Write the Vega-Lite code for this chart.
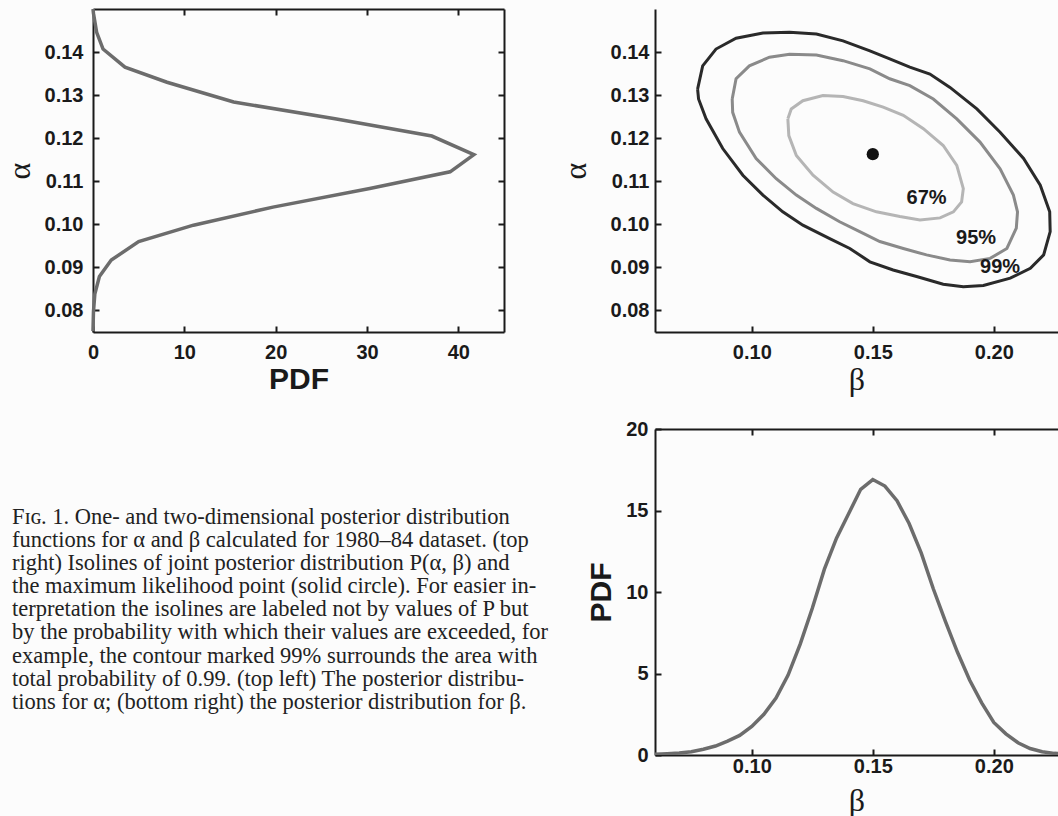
{
  "$schema": "https://vega.github.io/schema/vega-lite/v6.json",
  "background": "#fcfcfc",
  "padding": {"left": 3, "top": 2, "right": 0, "bottom": 0},
  "bounds": "flush",
  "columns": 2,
  "spacing": {"row": 97, "column": 151},
  "datasets": {
    "alphaPdf": [
      {"alpha": 0.0752, "pdf": 0.0}, {"alpha": 0.0797, "pdf": 0.05}, {"alpha": 0.0838, "pdf": 0.2},
      {"alpha": 0.0879, "pdf": 0.7}, {"alpha": 0.0917, "pdf": 2.0}, {"alpha": 0.0960, "pdf": 5.0},
      {"alpha": 0.0998, "pdf": 11.0}, {"alpha": 0.1040, "pdf": 19.7}, {"alpha": 0.1083, "pdf": 30.3},
      {"alpha": 0.1122, "pdf": 39.1}, {"alpha": 0.1162, "pdf": 41.7}, {"alpha": 0.1205, "pdf": 37.1},
      {"alpha": 0.1245, "pdf": 26.5}, {"alpha": 0.1284, "pdf": 15.4}, {"alpha": 0.1330, "pdf": 8.1},
      {"alpha": 0.1365, "pdf": 3.5}, {"alpha": 0.1407, "pdf": 1.1}, {"alpha": 0.1446, "pdf": 0.4},
      {"alpha": 0.1490, "pdf": 0.05}, {"alpha": 0.1500, "pdf": 0.0}
    ],
    "betaPdf": [
      {"beta": 0.060, "pdf": 0.05}, {"beta": 0.065, "pdf": 0.08}, {"beta": 0.070, "pdf": 0.12},
      {"beta": 0.075, "pdf": 0.2}, {"beta": 0.080, "pdf": 0.35}, {"beta": 0.085, "pdf": 0.55},
      {"beta": 0.090, "pdf": 0.85}, {"beta": 0.095, "pdf": 1.2}, {"beta": 0.100, "pdf": 1.75},
      {"beta": 0.105, "pdf": 2.5}, {"beta": 0.110, "pdf": 3.5}, {"beta": 0.115, "pdf": 4.9},
      {"beta": 0.120, "pdf": 6.8}, {"beta": 0.125, "pdf": 9.0}, {"beta": 0.130, "pdf": 11.4},
      {"beta": 0.135, "pdf": 13.3}, {"beta": 0.140, "pdf": 14.8}, {"beta": 0.145, "pdf": 16.3},
      {"beta": 0.150, "pdf": 16.9}, {"beta": 0.155, "pdf": 16.5}, {"beta": 0.160, "pdf": 15.6},
      {"beta": 0.165, "pdf": 14.2}, {"beta": 0.170, "pdf": 12.4}, {"beta": 0.175, "pdf": 10.2},
      {"beta": 0.180, "pdf": 8.2}, {"beta": 0.185, "pdf": 6.3}, {"beta": 0.190, "pdf": 4.6},
      {"beta": 0.195, "pdf": 3.2}, {"beta": 0.200, "pdf": 2.0}, {"beta": 0.205, "pdf": 1.3},
      {"beta": 0.210, "pdf": 0.75}, {"beta": 0.215, "pdf": 0.4}, {"beta": 0.220, "pdf": 0.2},
      {"beta": 0.225, "pdf": 0.1}, {"beta": 0.230, "pdf": 0.05}
    ],
    "contours": [
      {"level": "99%", "i": 0, "beta": 0.0776, "alpha": 0.1314}, {"level": "99%", "i": 1, "beta": 0.0797, "alpha": 0.1368},
      {"level": "99%", "i": 2, "beta": 0.0852, "alpha": 0.1407}, {"level": "99%", "i": 3, "beta": 0.0935, "alpha": 0.1432},
      {"level": "99%", "i": 4, "beta": 0.1046, "alpha": 0.1444}, {"level": "99%", "i": 5, "beta": 0.1156, "alpha": 0.1446},
      {"level": "99%", "i": 6, "beta": 0.1267, "alpha": 0.1442}, {"level": "99%", "i": 7, "beta": 0.1377, "alpha": 0.1426},
      {"level": "99%", "i": 8, "beta": 0.1488, "alpha": 0.1403}, {"level": "99%", "i": 9, "beta": 0.1570, "alpha": 0.1384},
      {"level": "99%", "i": 10, "beta": 0.1653, "alpha": 0.1365}, {"level": "99%", "i": 11, "beta": 0.1736, "alpha": 0.1349},
      {"level": "99%", "i": 12, "beta": 0.1819, "alpha": 0.1318}, {"level": "99%", "i": 13, "beta": 0.1930, "alpha": 0.1268},
      {"level": "99%", "i": 14, "beta": 0.2026, "alpha": 0.1214}, {"level": "99%", "i": 15, "beta": 0.2123, "alpha": 0.1153},
      {"level": "99%", "i": 16, "beta": 0.2192, "alpha": 0.1091}, {"level": "99%", "i": 17, "beta": 0.2231, "alpha": 0.1029},
      {"level": "99%", "i": 18, "beta": 0.2233, "alpha": 0.0983}, {"level": "99%", "i": 19, "beta": 0.2206, "alpha": 0.0929},
      {"level": "99%", "i": 20, "beta": 0.2151, "alpha": 0.0898}, {"level": "99%", "i": 21, "beta": 0.2068, "alpha": 0.0875},
      {"level": "99%", "i": 22, "beta": 0.1957, "alpha": 0.0858}, {"level": "99%", "i": 23, "beta": 0.1874, "alpha": 0.0855},
      {"level": "99%", "i": 24, "beta": 0.1791, "alpha": 0.0861}, {"level": "99%", "i": 25, "beta": 0.1681, "alpha": 0.0879},
      {"level": "99%", "i": 26, "beta": 0.1584, "alpha": 0.0894}, {"level": "99%", "i": 27, "beta": 0.1488, "alpha": 0.0913},
      {"level": "99%", "i": 28, "beta": 0.1405, "alpha": 0.0944}, {"level": "99%", "i": 29, "beta": 0.1322, "alpha": 0.0967},
      {"level": "99%", "i": 30, "beta": 0.1211, "alpha": 0.0998}, {"level": "99%", "i": 31, "beta": 0.1128, "alpha": 0.1029},
      {"level": "99%", "i": 32, "beta": 0.1046, "alpha": 0.1068}, {"level": "99%", "i": 33, "beta": 0.0963, "alpha": 0.1114},
      {"level": "99%", "i": 34, "beta": 0.0880, "alpha": 0.1176}, {"level": "99%", "i": 35, "beta": 0.0811, "alpha": 0.1245},
      {"level": "99%", "i": 36, "beta": 0.0780, "alpha": 0.1291}, {"level": "99%", "i": 37, "beta": 0.0776, "alpha": 0.1314},
      {"level": "95%", "i": 0, "beta": 0.0919, "alpha": 0.1291}, {"level": "95%", "i": 1, "beta": 0.0935, "alpha": 0.1338},
      {"level": "95%", "i": 2, "beta": 0.0990, "alpha": 0.1368}, {"level": "95%", "i": 3, "beta": 0.1073, "alpha": 0.1388},
      {"level": "95%", "i": 4, "beta": 0.1156, "alpha": 0.1395}, {"level": "95%", "i": 5, "beta": 0.1267, "alpha": 0.1393},
      {"level": "95%", "i": 6, "beta": 0.1377, "alpha": 0.1380}, {"level": "95%", "i": 7, "beta": 0.1488, "alpha": 0.1361},
      {"level": "95%", "i": 8, "beta": 0.1570, "alpha": 0.1338}, {"level": "95%", "i": 9, "beta": 0.1653, "alpha": 0.1322},
      {"level": "95%", "i": 10, "beta": 0.1750, "alpha": 0.1291}, {"level": "95%", "i": 11, "beta": 0.1847, "alpha": 0.1245},
      {"level": "95%", "i": 12, "beta": 0.1943, "alpha": 0.1191}, {"level": "95%", "i": 13, "beta": 0.2026, "alpha": 0.1129},
      {"level": "95%", "i": 14, "beta": 0.2081, "alpha": 0.1068}, {"level": "95%", "i": 15, "beta": 0.2098, "alpha": 0.1029},
      {"level": "95%", "i": 16, "beta": 0.2093, "alpha": 0.0991}, {"level": "95%", "i": 17, "beta": 0.2054, "alpha": 0.0944},
      {"level": "95%", "i": 18, "beta": 0.1985, "alpha": 0.0921}, {"level": "95%", "i": 19, "beta": 0.1902, "alpha": 0.0913},
      {"level": "95%", "i": 20, "beta": 0.1819, "alpha": 0.0917}, {"level": "95%", "i": 21, "beta": 0.1722, "alpha": 0.0929},
      {"level": "95%", "i": 22, "beta": 0.1626, "alpha": 0.0944}, {"level": "95%", "i": 23, "beta": 0.1529, "alpha": 0.0960},
      {"level": "95%", "i": 24, "beta": 0.1446, "alpha": 0.0983}, {"level": "95%", "i": 25, "beta": 0.1363, "alpha": 0.1006},
      {"level": "95%", "i": 26, "beta": 0.1267, "alpha": 0.1037}, {"level": "95%", "i": 27, "beta": 0.1184, "alpha": 0.1068},
      {"level": "95%", "i": 28, "beta": 0.1101, "alpha": 0.1106}, {"level": "95%", "i": 29, "beta": 0.1018, "alpha": 0.1153},
      {"level": "95%", "i": 30, "beta": 0.0949, "alpha": 0.1214}, {"level": "95%", "i": 31, "beta": 0.0921, "alpha": 0.1260},
      {"level": "95%", "i": 32, "beta": 0.0919, "alpha": 0.1291},
      {"level": "67%", "i": 0, "beta": 0.1149, "alpha": 0.1245}, {"level": "67%", "i": 1, "beta": 0.1163, "alpha": 0.1268},
      {"level": "67%", "i": 2, "beta": 0.1211, "alpha": 0.1287}, {"level": "67%", "i": 3, "beta": 0.1294, "alpha": 0.1299},
      {"level": "67%", "i": 4, "beta": 0.1377, "alpha": 0.1297}, {"level": "67%", "i": 5, "beta": 0.1460, "alpha": 0.1287},
      {"level": "67%", "i": 6, "beta": 0.1543, "alpha": 0.1272}, {"level": "67%", "i": 7, "beta": 0.1626, "alpha": 0.1253},
      {"level": "67%", "i": 8, "beta": 0.1709, "alpha": 0.1222}, {"level": "67%", "i": 9, "beta": 0.1791, "alpha": 0.1183},
      {"level": "67%", "i": 10, "beta": 0.1847, "alpha": 0.1137}, {"level": "67%", "i": 11, "beta": 0.1874, "alpha": 0.1083},
      {"level": "67%", "i": 12, "beta": 0.1867, "alpha": 0.1052}, {"level": "67%", "i": 13, "beta": 0.1833, "alpha": 0.1029},
      {"level": "67%", "i": 14, "beta": 0.1778, "alpha": 0.1015}, {"level": "67%", "i": 15, "beta": 0.1695, "alpha": 0.1010},
      {"level": "67%", "i": 16, "beta": 0.1612, "alpha": 0.1018}, {"level": "67%", "i": 17, "beta": 0.1515, "alpha": 0.1029},
      {"level": "67%", "i": 18, "beta": 0.1418, "alpha": 0.1048}, {"level": "67%", "i": 19, "beta": 0.1336, "alpha": 0.1075},
      {"level": "67%", "i": 20, "beta": 0.1253, "alpha": 0.1114}, {"level": "67%", "i": 21, "beta": 0.1184, "alpha": 0.1160},
      {"level": "67%", "i": 22, "beta": 0.1153, "alpha": 0.1206}, {"level": "67%", "i": 23, "beta": 0.1149, "alpha": 0.1245}
    ],
    "mle": [{"beta": 0.150, "alpha": 0.1163}],
    "contourLabels": [
      {"beta": 0.1722, "alpha": 0.1060, "label": "67%"},
      {"beta": 0.1927, "alpha": 0.0969, "label": "95%"},
      {"beta": 0.2026, "alpha": 0.0900, "label": "99%"}
    ],
    "caption": [
      {"line": 0, "text": "\u00a0\u00a0\u00a0\u00a0F\u026a\u0262. 1. One- and two-dimensional posterior distribution"},
      {"line": 1, "text": "functions for α and β calculated for 1980–84 dataset. (top"},
      {"line": 2, "text": "right) Isolines of joint posterior distribution P(α, β) and"},
      {"line": 3, "text": "the maximum likelihood point (solid circle). For easier in-"},
      {"line": 4, "text": "terpretation the isolines are labeled not by values of P but"},
      {"line": 5, "text": "by the probability with which their values are exceeded, for"},
      {"line": 6, "text": "example, the contour marked 99% surrounds the area with"},
      {"line": 7, "text": "total probability of 0.99. (top left) The posterior distribu-"},
      {"line": 8, "text": "tions for α; (bottom right) the posterior distribution for β."}
    ]
  },
  "concat": [
    {
      "width": 411,
      "height": 323,
      "data": {"name": "alphaPdf"},
      "layer": [
        {
          "mark": {"type": "line", "color": "#6c6c6c", "strokeWidth": 3.5},
          "encoding": {
            "x": {"field": "pdf", "type": "quantitative", "scale": {"domain": [0, 45], "nice": false, "zero": false},
                  "axis": {"values": [0, 10, 20, 30, 40], "title": "PDF", "titleFont": "Liberation Sans", "titleFontWeight": "bold", "titleFontSize": 30, "titlePadding": 2, "labelPadding": 16}},
            "y": {"field": "alpha", "type": "quantitative", "scale": {"domain": [0.075, 0.15], "nice": false, "zero": false},
                  "axis": {"values": [0.08, 0.09, 0.10, 0.11, 0.12, 0.13, 0.14], "format": ".2f", "title": "α", "titlePadding": 8, "labelPadding": 16}},
            "order": {"field": "alpha", "type": "quantitative"}
          }
        },
        {
          "mark": {"type": "line", "strokeOpacity": 0},
          "encoding": {
            "x": {"field": "pdf", "type": "quantitative", "axis": {"orient": "top", "values": [0, 10, 20, 30, 40], "labels": false, "title": null}},
            "y": {"field": "alpha", "type": "quantitative", "axis": {"orient": "right", "values": [0.08, 0.09, 0.10, 0.11, 0.12, 0.13, 0.14], "labels": false, "title": null}},
            "order": {"field": "alpha", "type": "quantitative"}
          }
        }
      ],
      "resolve": {"axis": {"x": "independent", "y": "independent"}}
    },
    {
      "width": 403,
      "height": 323,
      "layer": [
        {
          "data": {"name": "contours"},
          "mark": {"type": "line", "strokeWidth": 3},
          "encoding": {
            "x": {"field": "beta", "type": "quantitative", "scale": {"domain": [0.06, 0.22653], "nice": false, "zero": false},
                  "axis": {"values": [0.10, 0.15, 0.20], "format": ".2f", "title": "β", "titlePadding": 2, "labelPadding": 16}},
            "y": {"field": "alpha", "type": "quantitative", "scale": {"domain": [0.075, 0.15], "nice": false, "zero": false},
                  "axis": {"values": [0.08, 0.09, 0.10, 0.11, 0.12, 0.13, 0.14], "format": ".2f", "title": "α", "titlePadding": 18, "labelPadding": 12}},
            "color": {"field": "level", "type": "nominal", "scale": {"domain": ["67%", "95%", "99%"], "range": ["#b5b5b5", "#8a8a8a", "#2a2a2a"]}, "legend": null},
            "order": {"field": "i", "type": "quantitative"}
          }
        },
        {
          "data": {"name": "mle"},
          "mark": {"type": "point", "filled": true, "size": 150, "color": "#111111", "opacity": 1},
          "encoding": {
            "x": {"field": "beta", "type": "quantitative"},
            "y": {"field": "alpha", "type": "quantitative"}
          }
        },
        {
          "data": {"name": "contourLabels"},
          "mark": {"type": "text", "font": "Liberation Sans", "fontWeight": "bold", "fontSize": 20, "color": "#1a1a1a", "align": "center", "baseline": "middle"},
          "encoding": {
            "x": {"field": "beta", "type": "quantitative"},
            "y": {"field": "alpha", "type": "quantitative"},
            "text": {"field": "label", "type": "nominal"}
          }
        }
      ]
    },
    {
      "width": 411,
      "height": 326,
      "data": {"name": "caption"},
      "mark": {"type": "text", "align": "left", "baseline": "alphabetic", "font": "Liberation Serif", "fontSize": 22.5, "color": "#222222"},
      "encoding": {
        "x": {"value": -81},
        "y": {"field": "line", "type": "quantitative", "scale": {"domain": [-4.11, 10.0], "reverse": true, "nice": false, "zero": false}, "axis": null},
        "text": {"field": "text", "type": "nominal"}
      }
    },
    {
      "width": 403,
      "height": 326,
      "data": {"name": "betaPdf"},
      "layer": [
        {
          "mark": {"type": "line", "color": "#6c6c6c", "strokeWidth": 3.5, "clip": true},
          "encoding": {
            "x": {"field": "beta", "type": "quantitative", "scale": {"domain": [0.06, 0.22653], "nice": false, "zero": false},
                  "axis": {"values": [0.10, 0.15, 0.20], "format": ".2f", "title": "β", "titlePadding": 9, "labelPadding": 7}},
            "y": {"field": "pdf", "type": "quantitative", "scale": {"domain": [0, 20], "nice": false},
                  "axis": {"values": [0, 5, 10, 15, 20], "title": "PDF", "titleFont": "Liberation Sans", "titleFontWeight": "bold", "titleFontSize": 30, "titlePadding": 9, "labelPadding": 13}}
          }
        },
        {
          "mark": {"type": "line", "strokeOpacity": 0, "clip": true},
          "encoding": {
            "x": {"field": "beta", "type": "quantitative", "axis": {"orient": "top", "values": [0.10, 0.15, 0.20], "labels": false, "title": null}},
            "y": {"field": "pdf", "type": "quantitative"}
          }
        }
      ],
      "resolve": {"axis": {"x": "independent"}}
    }
  ],
  "config": {
    "view": {"stroke": null},
    "axis": {
      "grid": false,
      "domainColor": "#1a1a1a",
      "domainWidth": 2,
      "tickColor": "#1a1a1a",
      "tickWidth": 2,
      "tickSize": -6,
      "labelFont": "Liberation Sans",
      "labelFontWeight": "bold",
      "labelFontSize": 20,
      "labelColor": "#1a1a1a",
      "labelFlush": false,
      "labelOverlap": false,
      "titleColor": "#1a1a1a",
      "titleFont": "Liberation Serif",
      "titleFontWeight": "normal",
      "titleFontSize": 32
    }
  }
}
